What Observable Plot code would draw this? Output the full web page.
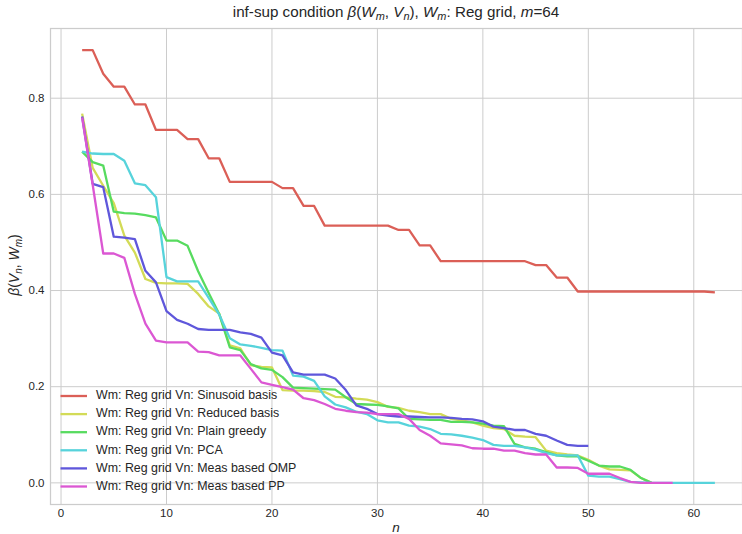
<!DOCTYPE html>
<html>
<head>
<meta charset="utf-8">
<script src="https://cdn.jsdelivr.net/npm/d3@7"></script>
<script src="https://cdn.jsdelivr.net/npm/@observablehq/plot@0.6"></script>
<style>
  body { margin: 0; background: #fff; }
  #wrap { position: relative; width: 742px; height: 534px; font-family: "Liberation Sans", Arial, sans-serif; color: #262626; }
  #title { position: absolute; top: 3px; left: 50px; width: 692px; text-align: center; font-size: 15.2px; line-height: 18px; white-space: nowrap; z-index: 2; }
  #title sub { font-size: 0.72em; vertical-align: -0.25em; line-height: 0; }
  #chart { position: absolute; top: 0; left: 0; }
</style>
</head>
<body>
<div id="wrap">
  <div id="title">inf-sup condition <i>β</i>(<i>W</i><sub><i>m</i></sub>, <i>V</i><sub><i>n</i></sub>), <i>W</i><sub><i>m</i></sub>: Reg grid, <i>m</i>=64</div>
  <div id="chart"></div>
</div>
<script>
// ---- data ----
const nStart = 2;
const seriesNames = [
  "Wm: Reg grid Vn: Sinusoid basis",
  "Wm: Reg grid Vn: Reduced basis",
  "Wm: Reg grid Vn: Plain greedy",
  "Wm: Reg grid Vn: PCA",
  "Wm: Reg grid Vn: Meas based OMP",
  "Wm: Reg grid Vn: Meas based PP"
];
const seriesColors = ["#db5f57", "#d3db57", "#57db5f", "#57d3db", "#5f57db", "#db57d3"];

const sinusoidBasis = [
  0.900,0.900,0.851,0.824,0.824,0.787,0.787,0.734,0.734,0.734,
  0.715,0.715,0.675,0.675,0.626,0.626,0.626,0.626,0.626,0.613,
  0.613,0.576,0.576,0.535,0.535,0.535,0.535,0.535,0.535,0.535,
  0.526,0.526,0.494,0.494,0.461,0.461,0.461,0.461,0.461,0.461,
  0.461,0.461,0.461,0.453,0.453,0.427,0.427,0.398,0.398,0.398,
  0.398,0.398,0.398,0.398,0.398,0.398,0.398,0.398,0.398,0.398,
  0.396
];
const reducedBasis = [
  0.768,0.655,0.618,0.582,0.514,0.479,0.424,0.416,0.415,0.415,
  0.414,0.393,0.367,0.352,0.286,0.280,0.245,0.241,0.240,0.193,
  0.192,0.192,0.191,0.189,0.179,0.178,0.175,0.173,0.168,0.158,
  0.156,0.150,0.147,0.143,0.143,0.133,0.130,0.126,0.119,0.114,
  0.112,0.098,0.096,0.095,0.067,0.062,0.059,0.057,0.048,0.036,
  0.028,0.027,0.026,0.010,0.000
];
const plainGreedy = [
  0.689,0.667,0.660,0.564,0.561,0.560,0.557,0.552,0.504,0.504,
  0.493,0.440,0.395,0.351,0.282,0.276,0.247,0.238,0.235,0.220,
  0.198,0.197,0.196,0.195,0.194,0.178,0.164,0.163,0.162,0.159,
  0.155,0.133,0.132,0.131,0.131,0.127,0.127,0.126,0.123,0.119,
  0.118,0.081,0.074,0.071,0.064,0.057,0.055,0.055,0.046,0.036,
  0.034,0.034,0.027,0.010,0.000
];
const pca = [
  0.689,0.685,0.684,0.684,0.670,0.623,0.619,0.594,0.428,0.419,
  0.419,0.419,0.385,0.350,0.301,0.288,0.285,0.281,0.276,0.275,
  0.223,0.221,0.212,0.180,0.163,0.157,0.148,0.143,0.130,0.126,
  0.126,0.119,0.117,0.112,0.102,0.101,0.098,0.094,0.089,0.079,
  0.077,0.077,0.074,0.069,0.062,0.057,0.057,0.057,0.015,0.013,
  0.013,0.008,0.002,0.001,0.000,0.000,0.000,0.000,0.000,0.000,
  0.000
];
const measOMP = [
  0.762,0.622,0.615,0.512,0.510,0.507,0.441,0.417,0.357,0.339,
  0.331,0.320,0.318,0.318,0.318,0.313,0.310,0.302,0.271,0.265,
  0.230,0.225,0.225,0.225,0.217,0.193,0.161,0.154,0.143,0.140,
  0.138,0.138,0.137,0.136,0.136,0.135,0.133,0.132,0.128,0.117,
  0.114,0.110,0.110,0.102,0.098,0.088,0.079,0.077,0.077
];
const measPP = [
  0.760,0.620,0.477,0.477,0.468,0.393,0.331,0.296,0.292,0.292,
  0.292,0.273,0.272,0.265,0.265,0.265,0.237,0.209,0.204,0.199,
  0.194,0.176,0.172,0.164,0.154,0.150,0.147,0.146,0.143,0.143,
  0.143,0.133,0.110,0.098,0.082,0.080,0.078,0.072,0.071,0.071,
  0.067,0.067,0.062,0.059,0.059,0.032,0.032,0.031,0.019,0.019,
  0.019,0.010,0.002,0.000,0.000,0.000,0.000
];
const xTicks = [0, 10, 20, 30, 40, 50, 60];
const yTicks = [0.0, 0.2, 0.4, 0.6, 0.8];

// ---- build table ----
const seriesValues = [sinusoidBasis, reducedBasis, plainGreedy, pca, measOMP, measPP];
const rows = seriesValues.flatMap((vals, k) =>
  vals.map((v, i) => ({ n: nStart + i, beta: v, series: seriesNames[k] })));

const W = 742, H = 534;
const chart = Plot.plot({
  width: W, height: H,
  marginLeft: 50, marginRight: 0, marginTop: 28, marginBottom: 30,
  style: { fontFamily: "Liberation Sans, Arial, sans-serif", fontSize: "11.5px", color: "#262626", background: "transparent" },
  x: { domain: [-1, 64.62] },
  y: { domain: [-0.045, 0.945] },
  color: { domain: seriesNames, range: seriesColors },
  marks: [
    Plot.gridX(xTicks, { stroke: "#cccccc", strokeOpacity: 1, strokeWidth: 1 }),
    Plot.gridY(yTicks, { stroke: "#cccccc", strokeOpacity: 1, strokeWidth: 1 }),
    Plot.frame({ stroke: "#cccccc", strokeWidth: 1.25 }),
    Plot.axisX({ ticks: xTicks, tickSize: 0, tickPadding: 4, fontSize: 11.5, label: null }),
    Plot.axisY({ ticks: yTicks, tickSize: 0, tickPadding: 6, fontSize: 11.5, label: null, tickFormat: d3.format(".1f") }),
    Plot.line(rows, { x: "n", y: "beta", z: "series", stroke: "series", strokeWidth: 2.3, strokeLinejoin: "round", strokeLinecap: "butt" })
  ]
});
document.getElementById("chart").appendChild(chart);

// ---- axis labels & legend (text) ----
const svg = d3.select(chart);
// x label
svg.append("text").attr("x", 396).attr("y", 528).attr("text-anchor", "middle")
  .attr("dominant-baseline", "middle").attr("font-size", 13.5).attr("font-style", "italic")
  .attr("fill", "#262626").text("n");
// y label
const yl = svg.append("text").attr("transform", "translate(15,265) rotate(-90)")
  .attr("text-anchor", "middle").attr("dominant-baseline", "middle")
  .attr("font-size", 14).attr("fill", "#262626");
yl.append("tspan").attr("font-style", "italic").text("β");
yl.append("tspan").text("(");
yl.append("tspan").attr("font-style", "italic").text("V");
yl.append("tspan").attr("font-style", "italic").attr("font-size", 10).attr("dy", 3.5).text("n");
yl.append("tspan").attr("dy", -3.5).text(", ");
yl.append("tspan").attr("font-style", "italic").text("W");
yl.append("tspan").attr("font-style", "italic").attr("font-size", 10).attr("dy", 3.5).text("m");
yl.append("tspan").attr("dy", -3.5).text(")");

// legend
const lg = svg.append("g").attr("text-anchor", "start");
seriesNames.forEach((name, i) => {
  const y = 396 + i * 18.1;
  lg.append("line").attr("x1", 60.5).attr("x2", 87).attr("y1", y).attr("y2", y)
    .attr("stroke", seriesColors[i]).attr("stroke-width", 2.3);
  lg.append("text").attr("x", 96).attr("y", y).attr("dominant-baseline", "middle")
    .attr("text-anchor", "start")
    .attr("font-size", 12.4).attr("fill", "#262626").text(name);
});
</script>
</body>
</html>
